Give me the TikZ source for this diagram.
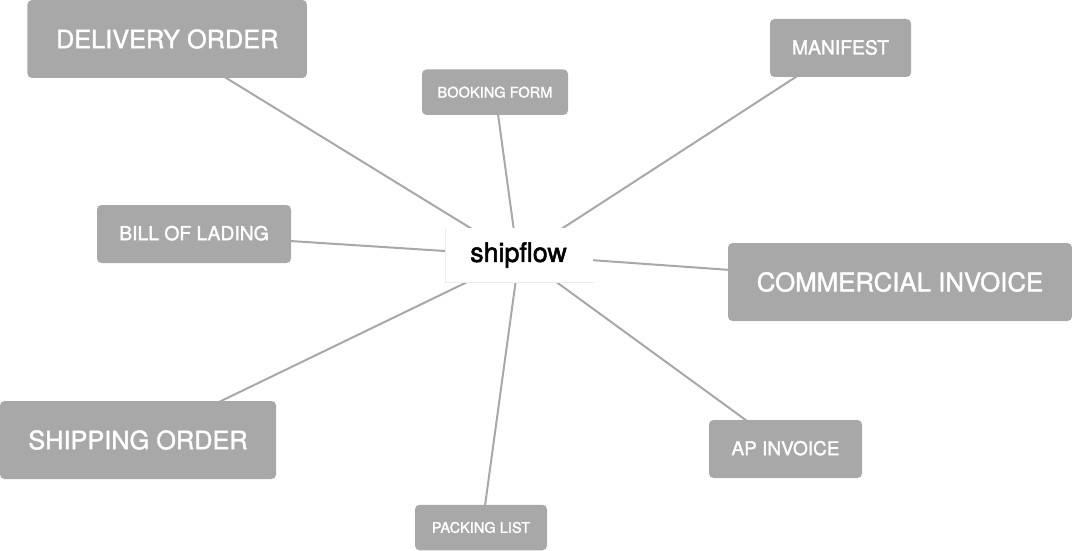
\documentclass[tikz,border=0pt]{standalone}
\usepackage{fontspec}
\setmainfont{TeX Gyre Heros}[FakeBold=1.6]
\newfontfamily\hubfont{TeX Gyre Heros}[FakeBold=2]
\usetikzlibrary{backgrounds}
\definecolor{boxgrey}{HTML}{A8A8A8}
\definecolor{hubedge}{HTML}{EDEDED}
\tikzset{
  x=1pt,y=-1pt,
  docbox/.style={fill=boxgrey,draw=none,rounded corners=4.5pt,text=white,inner sep=0pt,align=center},
  big/.style={docbox,minimum height=78pt,font=\fontsize{25.3}{28}\selectfont},
  mid/.style={docbox,minimum height=58pt,font=\fontsize{19.3}{22}\selectfont},
  small/.style={docbox,minimum height=45.5pt,font=\fontsize{14.6}{17}\selectfont},
  hub/.style={fill=white,draw=none,inner sep=0pt,minimum width=148pt,minimum height=54pt,font=\hubfont\fontsize{26.8}{30}\selectfont,text=black},
  hubline/.style={draw=hubedge,line width=0.8pt},
  link/.style={draw=boxgrey,line width=2pt}
}
\begin{document}
\begin{tikzpicture}
\useasboundingbox (0,0) rectangle (1072,551);
\node[big,minimum width=279.5pt] (delivery) at (167.2,39) {DELIVERY ORDER};
\node[small,minimum width=146pt] (booking) at (495,92.2) {BOOKING FORM};
\node[mid,minimum width=141pt] (manifest) at (840.5,48) {\raisebox{1.5pt}{MANIFEST}};
\node[mid,minimum width=194pt] (lading) at (194,234) {\raisebox{2pt}{BILL OF LADING}};
\node[big,minimum width=344pt,font=\fontsize{25.8}{28}\selectfont] (commercial) at (900,282) {COMMERCIAL INVOICE};
\node[mid,minimum width=153pt,font=\fontsize{19}{22}\selectfont] (ap) at (785.5,449) {\raisebox{2pt}{AP INVOICE}};
\node[big,minimum width=276pt] (shipping) at (138,440) {SHIPPING ORDER};
\node[small,minimum width=132pt] (packing) at (481,527.5) {PACKING LIST};
\node[hub] (shipflow) at (519.3,255) {\hspace{-1.5pt}\raisebox{-3pt}{shipflow}};
\draw[hubline] (shipflow.north west) -- (shipflow.south west) -- (shipflow.south east);
\begin{scope}[on background layer]
\draw[link] ([xshift=-4.4pt]delivery.center) -- ([xshift=-5pt]shipflow.center);
\draw[link] (booking.center) -- ([xshift=-2pt]shipflow.center);
\draw[link] (manifest.center) -- ([xshift=2pt]shipflow.center);
\draw[link] ([yshift=-0.8pt]lading.center) -- ([yshift=-0.8pt]shipflow.center);
\draw[link] (commercial.center) -- (shipflow.center);
\draw[link] (ap.center) -- (shipflow.center);
\draw[link] ([xshift=2.4pt]shipping.center) -- ([xshift=3.8pt]shipflow.center);
\draw[link] ([xshift=1pt]packing.center) -- (shipflow.center);
\end{scope}
\end{tikzpicture}
\end{document}
